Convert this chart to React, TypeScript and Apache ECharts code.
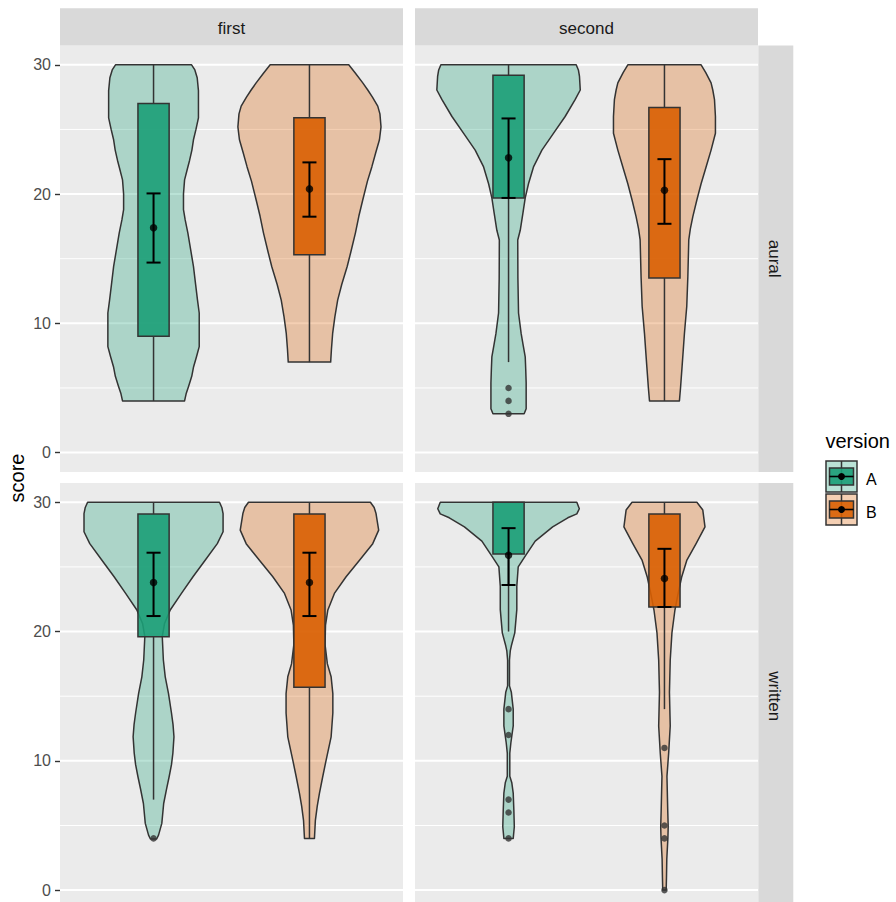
import React, { useEffect, useRef } from "react";
import * as echarts from "echarts";

const columns = ["first", "second"];
const rows = ["aural", "written"];
const versions = ["A", "B"];
const yMajor = [0, 10, 20, 30];
const yMinor = [5, 15, 25];

// Violin outlines: [score, half-width in hundredths of one category step]
const violinAuralFirstA = [
  [4.0, 19.9], [4.6, 21.0], [5.1, 22.4], [5.9, 24.5], [6.6, 25.6], [7.4, 27.5], [8.2, 29.3],
  [10.8, 29.3], [11.8, 28.2], [13.0, 27.0], [14.4, 25.6], [15.7, 23.8], [17.0, 22.0], [18.0, 20.3],
  [18.8, 19.2], [20.0, 19.2], [21.1, 19.9], [22.0, 21.8], [22.6, 23.1], [23.4, 24.6], [24.2, 25.6],
  [25.0, 27.2], [25.9, 28.8], [28.0, 28.8], [29.0, 28.0], [29.6, 26.5], [30.0, 24.4],
];
const violinAuralFirstB = [
  [7.0, 13.6], [8.0, 14.1], [9.25, 14.9], [10.5, 16.3], [11.8, 18.1], [13.0, 20.7], [14.4, 24.2],
  [15.5, 26.5], [17.0, 29.5], [18.3, 31.7], [19.5, 34.1], [21.0, 37.2], [22.1, 40.0], [23.2, 42.5],
  [24.2, 44.9], [25.2, 45.9], [26.2, 45.2], [26.8, 43.8], [27.5, 40.4], [28.05, 37.4], [28.6, 34.2],
  [29.35, 29.5], [30.0, 25.2],
];
const violinAuralSecondA = [
  [3.0, 10.0], [3.4, 11.3], [5.4, 11.3], [6.5, 11.0], [7.4, 10.7], [8.3, 9.4], [9.2, 8.1],
  [10.8, 6.4], [13.5, 6.0], [16.45, 5.9], [17.2, 7.5], [18.5, 9.2], [19.7, 10.7], [20.8, 12.8],
  [22.1, 16.0], [23.4, 21.4], [24.7, 28.8], [26.0, 36.3], [27.3, 42.7], [28.05, 46.0], [29.1, 45.5],
  [29.6, 44.8], [30.0, 43.4],
];
const violinAuralSecondB = [
  [4.0, 9.6], [5.0, 10.3], [6.65, 11.3], [8.0, 12.1], [9.2, 12.8], [11.3, 14.3], [13.6, 15.0],
  [16.45, 15.6], [17.3, 16.6], [18.25, 18.2], [19.5, 20.7], [20.8, 23.5], [22.1, 26.7], [23.4, 29.9],
  [24.7, 32.7], [26.0, 32.7], [27.3, 32.1], [28.05, 31.0], [28.6, 29.9], [29.4, 26.5], [30.0, 23.5],
];
const violinWrittenFirstA = [
  [3.95, 2.0], [4.25, 3.2], [5.16, 5.3], [6.7, 6.5], [7.8, 8.3], [8.77, 10.0], [9.7, 11.5],
  [10.6, 12.4], [11.86, 13.1], [12.8, 12.5], [13.7, 11.5], [15.2, 9.6], [16.5, 7.5], [17.8, 6.3],
  [19.6, 5.6], [20.6, 7.0], [21.67, 10.7], [22.95, 17.9], [24.24, 25.3], [25.52, 33.1], [26.8, 40.9],
  [27.72, 44.6], [29.13, 44.6], [29.6, 43.8], [30.0, 42.3],
];
const violinWrittenFirstB = [
  [4.0, 3.2], [5.4, 3.8], [6.5, 5.0], [7.48, 6.4], [8.77, 8.5], [10.06, 10.7], [11.86, 13.9],
  [13.7, 15.0], [15.2, 15.0], [16.5, 13.9], [17.5, 11.5], [19.0, 10.0], [20.5, 10.3], [21.67, 11.8],
  [22.95, 16.0], [24.24, 23.5], [25.52, 32.1], [26.8, 40.6], [27.85, 44.4], [29.13, 42.7],
  [29.6, 41.5], [30.0, 39.1],
];
const violinWrittenSecondA = [
  [4.0, 3.0], [4.9, 3.7], [6.2, 3.4], [7.5, 3.0], [8.3, 2.1], [8.8, 0.8], [10.6, 0.8], [11.4, 1.5],
  [12.7, 3.0], [14.0, 3.0], [15.3, 1.8], [15.8, 0.6], [17.8, 0.6], [18.5, 1.1], [18.9, 1.8],
  [19.9, 4.0], [21.7, 5.3], [23.5, 5.3], [25.0, 6.2], [25.9, 11.0], [27.0, 17.1], [28.1, 28.3],
  [28.8, 38.0], [29.1, 43.8], [29.5, 45.4], [30.0, 43.8],
];
const violinWrittenSecondB = [
  [0.0, 1.1], [1.0, 1.3], [2.4, 1.5], [4.0, 2.2], [4.9, 2.4], [6.2, 2.1], [8.8, 1.6], [10.6, 2.7],
  [12.7, 3.7], [15.3, 3.2], [17.8, 3.7], [19.9, 4.8], [21.65, 6.7], [22.9, 8.7], [24.2, 11.0],
  [25.5, 14.3], [26.8, 20.3], [28.1, 26.0], [29.4, 24.6], [30.0, 20.8],
];

// Panels: aural-first, aural-second, written-first, written-second; each [A, B]
const violinsByPanel = [
  [violinAuralFirstA, violinAuralFirstB],
  [violinAuralSecondA, violinAuralSecondB],
  [violinWrittenFirstA, violinWrittenFirstB],
  [violinWrittenSecondA, violinWrittenSecondB],
];
const boxQ1 = [[9, 15.3], [19.7, 13.5], [19.6, 15.7], [26, 21.9]];
const boxQ3 = [[27, 25.9], [29.2, 26.7], [29.1, 29.1], [30, 29.1]];
const whiskerLow = [[4, 7], [7, 4], [7, 4], [20, 14]];
const whiskerHigh = [[30, 30], [30, 30], [30, 30], [30, 30]];
const meanScore = [[17.4, 20.4], [22.8, 20.3], [23.8, 23.8], [25.9, 24.1]];
const ciLow = [[14.7, 18.25], [19.7, 17.7], [21.2, 21.2], [23.6, 21.9]];
const ciHigh = [[20.05, 22.45], [25.85, 22.7], [26.1, 26.1], [28.0, 26.4]];
const outlierScores = [
  [[], []],
  [[3, 4, 5], []],
  [[4], []],
  [[4, 6, 7, 12, 14], [0, 4, 5, 11]],
];

// Styles / layout
const FONT = "'Liberation Sans', Arial, Helvetica, sans-serif";
const BASE = [
  [27, 158, 119],
  [217, 95, 2],
];
const rgba = (c: number[], a: number) => `rgba(${c[0]},${c[1]},${c[2]},${a})`;
const OUTLINE = "#333333";
const LW = 1.5;
const PANEL_LEFT = [60, 415];
const PANEL_W = 343;
const PANEL_TOP = [45.4, 482.9];
const PANEL_H = 426.6;
const X_MIN = 0.4;
const X_MAX = 2.6;
const BOX_HALF = 0.1;
const CAP_HALF = 0.045;

export default function App() {
  const ref = useRef<HTMLDivElement>(null);

  useEffect(() => {
    document.body.style.margin = "0";
    if (!ref.current) return;
    const chart = echarts.init(ref.current, undefined, { renderer: "svg" });

    const grids: any[] = [];
    const xAxes: any[] = [];
    const yAxes: any[] = [];
    const series: any[] = [];

    for (let p = 0; p < 4; p++) {
      const row = Math.floor(p / 2);
      const col = p % 2;
      grids.push({
        left: PANEL_LEFT[col],
        top: PANEL_TOP[row],
        width: PANEL_W,
        height: PANEL_H,
        show: true,
        backgroundColor: "#EBEBEB",
        borderWidth: 0,
        containLabel: false,
        outerBoundsMode: "none",
      });
      xAxes.push({ type: "value", gridIndex: p, min: X_MIN, max: X_MAX, show: false });
      yAxes.push({
        type: "value",
        gridIndex: p,
        min: -1.5,
        max: 31.5,
        show: col === 0,
        axisLine: { show: false },
        splitLine: { show: false },
        axisTick: {
          show: true,
          customValues: yMajor,
          length: 5,
          lineStyle: { color: OUTLINE, width: 1.4 },
        },
        axisLabel: {
          customValues: yMajor,
          color: "#4D4D4D",
          fontSize: 16,
          fontFamily: FONT,
          margin: 9,
          padding: [4, 0, 0, 0],
        },
      });

      // grid lines
      series.push({
        type: "custom",
        xAxisIndex: p,
        yAxisIndex: p,
        z: 1,
        silent: true,
        data: [...yMajor.map((v) => [v, 1]), ...yMinor.map((v) => [v, 0])],
        renderItem: (_params: any, api: any) => {
          const v = api.value(0);
          const major = api.value(1);
          const a = api.coord([X_MIN, v]);
          const b = api.coord([X_MAX, v]);
          return {
            type: "line",
            shape: { x1: a[0], y1: a[1], x2: b[0], y2: b[1] },
            style: { stroke: "#FFFFFF", lineWidth: major ? 2 : 1 },
          };
        },
      });

      // violins
      series.push({
        type: "custom",
        xAxisIndex: p,
        yAxisIndex: p,
        z: 2,
        silent: true,
        data: versions.map((_, i) => [i + 1, i]),
        renderItem: (_params: any, api: any) => {
          const x = api.value(0);
          const i = api.value(1);
          const pts = violinsByPanel[p][i];
          const right = pts.map(([y, w]) => api.coord([x + w / 100, y]));
          const left = pts
            .slice()
            .reverse()
            .map(([y, w]) => api.coord([x - w / 100, y]));
          return {
            type: "polygon",
            shape: { points: right.concat(left) },
            style: { fill: rgba(BASE[i], 0.3), stroke: OUTLINE, lineWidth: LW, lineJoin: "round" },
          };
        },
      });

      // boxplots
      series.push({
        type: "custom",
        xAxisIndex: p,
        yAxisIndex: p,
        z: 3,
        silent: true,
        data: versions.map((_, i) => [i + 1, i]),
        renderItem: (_params: any, api: any) => {
          const x = api.value(0);
          const i = api.value(1);
          const q1 = api.coord([x, boxQ1[p][i]]);
          const q3 = api.coord([x, boxQ3[p][i]]);
          const lo = api.coord([x, whiskerLow[p][i]]);
          const hi = api.coord([x, whiskerHigh[p][i]]);
          const tl = api.coord([x - BOX_HALF, boxQ3[p][i]]);
          const br = api.coord([x + BOX_HALF, boxQ1[p][i]]);
          const ls = { stroke: OUTLINE, lineWidth: LW };
          return {
            type: "group",
            children: [
              { type: "line", shape: { x1: q3[0], y1: q3[1], x2: hi[0], y2: hi[1] }, style: ls },
              { type: "line", shape: { x1: q1[0], y1: q1[1], x2: lo[0], y2: lo[1] }, style: ls },
              {
                type: "rect",
                shape: { x: tl[0], y: tl[1], width: br[0] - tl[0], height: br[1] - tl[1] },
                style: { fill: rgba(BASE[i], 0.9), stroke: OUTLINE, lineWidth: LW },
              },
            ],
          };
        },
      });

      // outliers
      const outData: number[][] = [];
      versions.forEach((_, i) => {
        outlierScores[p][i].forEach((v) => outData.push([i + 1, v]));
      });
      series.push({
        type: "scatter",
        xAxisIndex: p,
        yAxisIndex: p,
        z: 3,
        silent: true,
        symbolSize: 6.5,
        itemStyle: { color: OUTLINE },
        data: outData,
      });

      // error bars
      series.push({
        type: "custom",
        xAxisIndex: p,
        yAxisIndex: p,
        z: 4,
        silent: true,
        data: versions.map((_, i) => [i + 1, i]),
        renderItem: (_params: any, api: any) => {
          const x = api.value(0);
          const i = api.value(1);
          const top = api.coord([x, ciHigh[p][i]]);
          const bot = api.coord([x, ciLow[p][i]]);
          const l = api.coord([x - CAP_HALF, ciHigh[p][i]]);
          const r = api.coord([x + CAP_HALF, ciLow[p][i]]);
          const ls = { stroke: "#000000", lineWidth: 2 };
          return {
            type: "group",
            children: [
              { type: "line", shape: { x1: top[0], y1: top[1], x2: bot[0], y2: bot[1] }, style: ls },
              { type: "line", shape: { x1: l[0], y1: top[1], x2: r[0], y2: top[1] }, style: ls },
              { type: "line", shape: { x1: l[0], y1: bot[1], x2: r[0], y2: bot[1] }, style: ls },
            ],
          };
        },
      });

      // means
      series.push({
        type: "scatter",
        xAxisIndex: p,
        yAxisIndex: p,
        z: 5,
        silent: true,
        symbolSize: 7.5,
        itemStyle: { color: "#000000" },
        data: versions.map((_, i) => [i + 1, meanScore[p][i]]),
      });
    }

    const graphic: any[] = [];
    columns.forEach((c, ci) => {
      graphic.push({
        type: "rect",
        silent: true,
        shape: { x: PANEL_LEFT[ci], y: 8.3, width: PANEL_W, height: 37.1 },
        style: { fill: "#D9D9D9" },
      });
      graphic.push({
        type: "text",
        silent: true,
        x: PANEL_LEFT[ci] + PANEL_W / 2,
        y: 28.5,
        style: {
          text: c,
          fill: "#1A1A1A",
          fontSize: 17,
          fontFamily: FONT,
          align: "center",
          verticalAlign: "middle",
        },
      });
    });
    rows.forEach((r, ri) => {
      graphic.push({
        type: "rect",
        silent: true,
        shape: { x: 758.3, y: PANEL_TOP[ri], width: 35, height: PANEL_H },
        style: { fill: "#D9D9D9" },
      });
      graphic.push({
        type: "text",
        silent: true,
        x: 774.5,
        y: PANEL_TOP[ri] + PANEL_H / 2,
        rotation: -Math.PI / 2,
        style: {
          text: r,
          fill: "#1A1A1A",
          fontSize: 17,
          fontFamily: FONT,
          align: "center",
          verticalAlign: "middle",
        },
      });
    });
    graphic.push({
      type: "text",
      silent: true,
      x: 16.5,
      y: 478,
      rotation: Math.PI / 2,
      style: {
        text: "score",
        fill: "#000000",
        fontSize: 20,
        fontFamily: FONT,
        align: "center",
        verticalAlign: "middle",
      },
    });
    // legend
    graphic.push({
      type: "text",
      silent: true,
      x: 825.5,
      y: 441,
      style: {
        text: "version",
        fill: "#000000",
        fontSize: 20,
        fontFamily: FONT,
        align: "left",
        verticalAlign: "middle",
      },
    });
    versions.forEach((v, i) => {
      const ky = 461 + i * 33;
      const kx = 826;
      const cx = kx + 15.5;
      const cy = ky + 15.5;
      graphic.push({
        type: "rect",
        silent: true,
        shape: { x: kx, y: ky, width: 31, height: 31 },
        style: { fill: rgba(BASE[i], 0.3), stroke: OUTLINE, lineWidth: LW },
      });
      graphic.push({
        type: "line",
        silent: true,
        shape: { x1: cx, y1: ky, x2: cx, y2: ky + 31 },
        style: { stroke: OUTLINE, lineWidth: LW },
      });
      graphic.push({
        type: "rect",
        silent: true,
        shape: { x: kx + 3.5, y: ky + 7, width: 24, height: 17 },
        style: { fill: rgba(BASE[i], 0.9), stroke: OUTLINE, lineWidth: LW },
      });
      graphic.push({
        type: "line",
        silent: true,
        shape: { x1: kx + 3.5, y1: cy, x2: kx + 27.5, y2: cy },
        style: { stroke: "#000000", lineWidth: 1.6 },
      });
      graphic.push({
        type: "circle",
        silent: true,
        shape: { cx, cy, r: 3.5 },
        style: { fill: "#000000" },
      });
      graphic.push({
        type: "text",
        silent: true,
        x: 866,
        y: cy + 3,
        style: {
          text: v,
          fill: "#000000",
          fontSize: 16,
          fontFamily: FONT,
          align: "left",
          verticalAlign: "middle",
        },
      });
    });

    chart.setOption({
      animation: false,
      backgroundColor: "#FFFFFF",
      grid: grids,
      xAxis: xAxes,
      yAxis: yAxes,
      series,
      graphic,
    });

    return () => chart.dispose();
  }, []);

  return <div ref={ref} style={{ width: 896, height: 902 }} />;
}
